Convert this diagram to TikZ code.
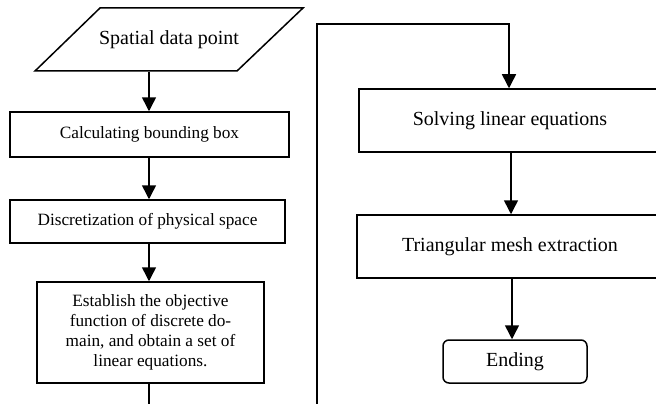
\documentclass[tikz,border=0pt]{standalone}
\usepackage{fontspec}
\setmainfont{Liberation Serif}
\usetikzlibrary{arrows.meta}
\begin{document}
\begin{tikzpicture}[x=1pt,y=-1pt,
  line width=1.5pt,
  bigtext/.style={font=\fontsize{20}{24}\selectfont},
  smalltext/.style={font=\fontsize{17.25}{20}\selectfont},
  procbox/.style={draw,rectangle,inner sep=0pt,align=center},
  endbox/.style={draw,rectangle,rounded corners=6pt,inner sep=0pt,align=center},
  flow/.style={-{Triangle[width=14pt,length=14pt]}}]
\useasboundingbox (0,0) rectangle (656,404);
\clip (0,0) rectangle (656,404);

% input parallelogram
\draw (100,8) -- (303,8) -- (237,71) -- (35,71) -- cycle;
\node[bigtext,inner sep=0pt,minimum height=63pt] (input) at (169,39.5) {Spatial data point};

% left column
\node[procbox,smalltext,minimum width=279pt,minimum height=45pt] (b1) at (149.5,134.5) {Calculating bounding box};
\node[procbox,smalltext,minimum width=275pt,minimum height=43pt] (b2) at (147.5,221.5) {Discretization of physical space};
\node[procbox,smalltext,minimum width=227pt,minimum height=101pt] (b3) at (150.5,332.5)
  {Establish the objective\\function of discrete do-\\main, and obtain a set of\\linear equations.};

% right column
\node[procbox,bigtext,minimum width=302pt,minimum height=63pt] (b4) at (510,120.5) {Solving linear equations};
\node[procbox,bigtext,minimum width=306pt,minimum height=63pt] (b5) at (510,246.5) {Triangular mesh extraction};
\node[endbox,bigtext,minimum width=144pt,minimum height=43pt] (end) at (515,361.5) {Ending};

% connectors
\coordinate (lb) at (149,404);
\coordinate (jb) at (317,404);
\coordinate (jt) at (317,24);
\draw[flow] (input.south -| 149,0) -- (149,0 |- b1.north);
\draw[flow] (b1.south -| 149,0) -- (149,0 |- b2.north);
\draw[flow] (b2.south -| 149,0) -- (149,0 |- b3.north);
\draw (b3.south -| lb) -- (lb);
\draw[flow] (jb) -- (jt) -| (b4.north -| 509,0);
\draw[flow] (b4.south -| 511,0) -- (511,0 |- b5.north);
\draw[flow] (b5.south -| 512,0) -- (512,0 |- end.north);
\end{tikzpicture}
\end{document}
